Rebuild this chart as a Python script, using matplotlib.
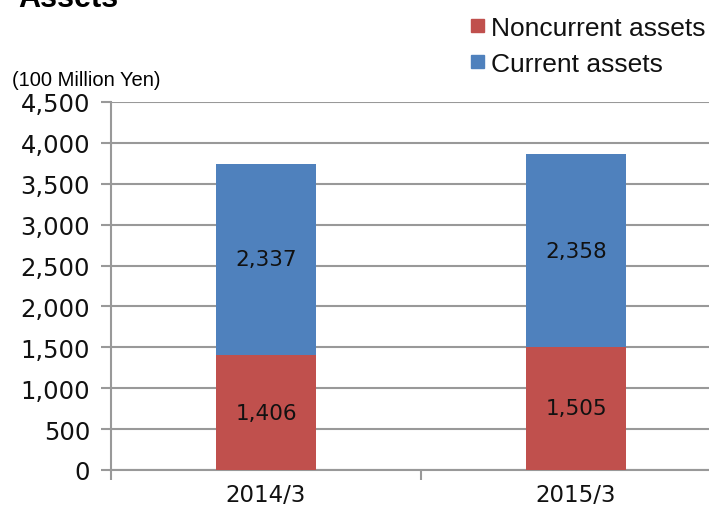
import matplotlib
matplotlib.use("Agg")
import matplotlib.pyplot as plt
from matplotlib.patches import Rectangle

categories = ["2014/3", "2015/3"]
noncurrent = [1406, 1505]
current = [2337, 2358]
yticks = [0, 500, 1000, 1500, 2000, 2500, 3000, 3500, 4000, 4500]
ytick_labels = ["0", "500", "1,000", "1,500", "2,000", "2,500", "3,000", "3,500", "4,000", "4,500"]
series_names = ["Noncurrent assets", "Current assets"]
title = "Assets"
unit = "(100 Million Yen)"

RED = "#C0504D"
BLUE = "#4F81BD"
GRID = "#999999"
TXT = "#111111"

W, H = 709, 506
fig = plt.figure(figsize=(W / 100, H / 100), dpi=100)

# axes: x from 111 px to 731 px (beyond right edge), y from 471 (0) to 103 (4500)
left, right = 111, 731
bottom, top = 471, 103
ax = fig.add_axes([left / W, 1 - bottom / H, (right - left) / W, (bottom - top) / H])

x = list(range(len(categories)))
bw = 0.32
ax.bar(x, noncurrent, width=bw, color=RED, zorder=3)
ax.bar(x, current, width=bw, bottom=noncurrent, color=BLUE, zorder=3)

for i in x:
    ax.text(i, noncurrent[i] / 2, f"{noncurrent[i]:,}", ha="center", va="center",
            fontsize=15.5, family="DejaVu Sans", color=TXT, zorder=4)
    ax.text(i, noncurrent[i] + current[i] / 2, f"{current[i]:,}", ha="center", va="center",
            fontsize=15.5, family="DejaVu Sans", color=TXT, zorder=4)

ax.set_xlim(-0.5, 1.5)
ax.set_ylim(0, 4500)
ax.set_yticks(yticks)
ax.set_yticklabels(ytick_labels, family="DejaVu Sans", fontsize=17.5, color=TXT)
ax.yaxis.grid(True, color=GRID, linewidth=1.5, zorder=0)
ax.set_xticks([-0.5, 0.5, 1.5])
ax.set_xticklabels([])
ax.set_xticks(x, minor=True)
ax.set_xticklabels(categories, minor=True, family="DejaVu Sans", fontsize=16.5, color=TXT)
ax.tick_params(axis="x", which="major", length=7, width=1.5, color=GRID, direction="out")
for lab in ax.get_xticklabels(minor=True):
    lab.set_verticalalignment("center")
ax.tick_params(axis="x", which="minor", length=0, pad=18)
ax.tick_params(axis="y", length=7, width=1.5, color=GRID, direction="out", pad=8)

for s in ["top", "right"]:
    ax.spines[s].set_visible(False)
for s in ["left", "bottom"]:
    ax.spines[s].set_color(GRID)
    ax.spines[s].set_linewidth(1.5)

fig.text(18 / W, 1 - 7 / H, title, fontsize=22, fontweight="bold", family="Liberation Sans",
         ha="left", va="baseline")
fig.text(12 / W, 1 - 80 / H, unit, fontsize=14.5, family="Liberation Sans",
         ha="left", va="center")

# legend (manual placement)
colors = [RED, BLUE]
rows_y = [26.5, 62.5]
for name, c, yc in zip(series_names, colors, rows_y):
    fig.patches.append(Rectangle((471 / W, 1 - (yc + 6.5) / H), 13 / W, 13 / H,
                                 transform=fig.transFigure, color=c, figure=fig))
    fig.text(491 / W, 1 - yc / H, name, fontsize=19, family="Liberation Sans",
             ha="left", va="center_baseline", color=TXT)

fig.savefig("out.png", dpi=100)
